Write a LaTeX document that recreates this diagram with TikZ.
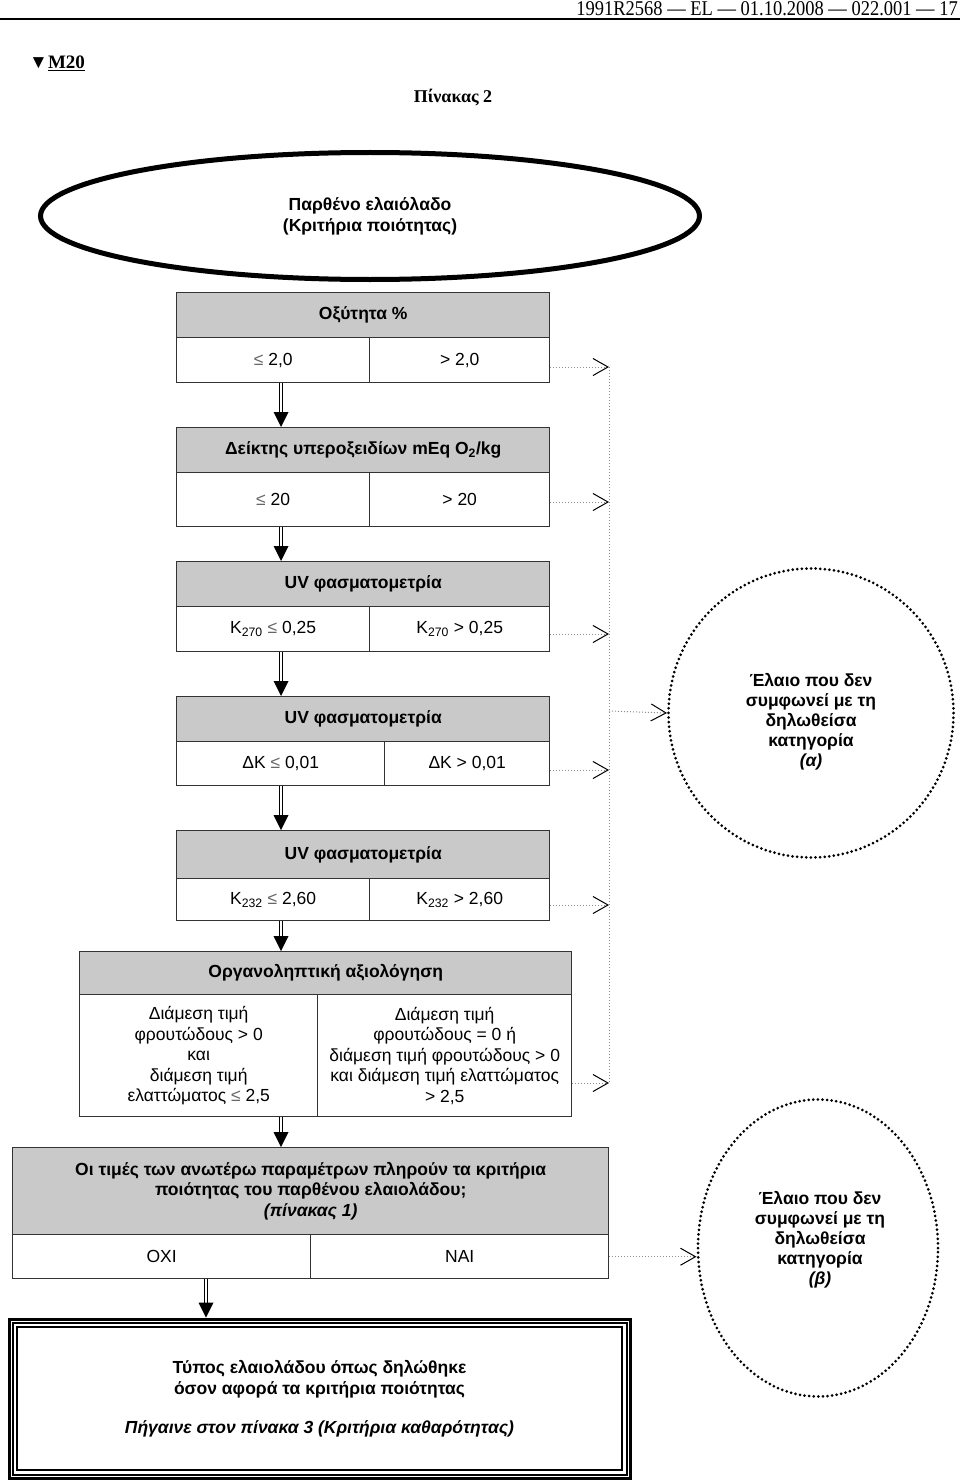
\documentclass[tikz,border=0pt]{standalone}
\usepackage{fontspec}
\setmainfont{Liberation Sans}
\newfontfamily\serifF{Liberation Serif}
\usetikzlibrary{shapes.geometric,arrows.meta}
\newcommand{\dblarr}[2]{%
  \draw[dbl] (#1) -- ([yshift=13pt]#2);
  \fill (#2) -- ++(-7.5pt,15pt) -- ++(15pt,0pt) -- cycle;}
\newcommand{\lte}{{\color{black!60}≤}}
\begin{document}
\begin{tikzpicture}[x=1pt,y=-1pt,
  cell/.style={draw=black!80, line width=1.4pt, inner sep=0pt, anchor=north west, align=center, font=\fontsize{17.5}{20.5}\selectfont},
  head/.style={cell, fill=black!21, font=\bfseries\fontsize{17.5}{20.5}\selectfont},
  dbl/.style={draw=black, double=white, double distance=1.8pt, line width=1.2pt},
  dotline/.style={draw=black!45, dotted, line width=1pt},
  dotarr/.style={dotline, -{Straight Barb[length=15pt,width=17pt,line width=1pt,color=black]}},
  circ/.style={ellipse, draw=black, line width=3pt, dash pattern=on 0pt off 4.6pt, line cap=round, inner sep=0pt},
  ctext/.style={align=center, font=\bfseries\fontsize{17.5}{20}\selectfont},
]
\useasboundingbox (0,0) rectangle (960,1482);
\fill[white] (0,0) rectangle (960,1482);

% page header
\node[anchor=north east, inner sep=0pt, font=\serifF\fontsize{21}{24}\selectfont] (hdr) at (958,1) {\scalebox{0.88}[1]{1991R2568 — EL — 01.10.2008 — 022.001 — 17}};
\draw[line width=1.2pt] (0,19) -- (960,19);
\node[anchor=west, inner sep=0pt, font=\serifF\bfseries\fontsize{19}{22}\selectfont] (m20) at (29,63) {▼\underline{M20}};
\node[inner sep=0pt, font=\serifF\bfseries\fontsize{18}{22}\selectfont] (title) at (453,98) {Πίνακας 2};

% top ellipse
\node[ellipse, draw, line width=5pt, minimum width=659pt, minimum height=127pt, inner sep=0pt, align=center, font=\bfseries\fontsize{17.5}{21}\selectfont] (top) at (370,216) {Παρθένο ελαιόλαδο\\(Κριτήρια ποιότητας)};

% box 1
\node[head, minimum width=373pt, minimum height=45pt] (h1) at (176,292) {Οξύτητα \%};
\node[cell, minimum width=193pt, minimum height=45pt] (l1) at (176,337) {\lte{} 2,0};
\node[cell, minimum width=180pt, minimum height=45pt] (r1) at (369,337) {> 2,0};
% box 2
\node[head, minimum width=373pt, minimum height=45pt] (h2) at (176,427) {Δείκτης υπεροξειδίων mEq O\textsubscript{2}/kg};
\node[cell, minimum width=193pt, minimum height=54pt] (l2) at (176,472) {\lte{} 20};
\node[cell, minimum width=180pt, minimum height=54pt] (r2) at (369,472) {> 20};
% box 3
\node[head, minimum width=373pt, minimum height=45pt] (h3) at (176,561) {UV φασματομετρία};
\node[cell, minimum width=193pt, minimum height=45pt] (l3) at (176,606) {K\textsubscript{270} \lte{} 0,25};
\node[cell, minimum width=180pt, minimum height=45pt] (r3) at (369,606) {K\textsubscript{270} > 0,25};
% box 4
\node[head, minimum width=373pt, minimum height=45pt] (h4) at (176,696) {UV φασματομετρία};
\node[cell, minimum width=208pt, minimum height=44pt] (l4) at (176,741) {ΔK \lte{} 0,01};
\node[cell, minimum width=165pt, minimum height=44pt] (r4) at (384,741) {ΔK > 0,01};
% box 5
\node[head, minimum width=373pt, minimum height=48pt] (h5) at (176,830) {UV φασματομετρία};
\node[cell, minimum width=193pt, minimum height=42pt] (l5) at (176,878) {K\textsubscript{232} \lte{} 2,60};
\node[cell, minimum width=180pt, minimum height=42pt] (r5) at (369,878) {K\textsubscript{232} > 2,60};
% box 6
\node[head, minimum width=492pt, minimum height=43pt] (h6) at (79,951) {Οργανοληπτική αξιολόγηση};
\node[cell, minimum width=238pt, minimum height=122pt] (l6) at (79,994) {Διάμεση τιμή\\φρουτώδους > 0\\και\\διάμεση τιμή\\ελαττώματος \lte{} 2,5};
\node[cell, minimum width=254pt, minimum height=122pt] (r6) at (317,994) {Διάμεση τιμή\\φρουτώδους = 0 ή\\διάμεση τιμή φρουτώδους > 0\\και διάμεση τιμή ελαττώματος\\> 2,5};
% box 7
\node[head, minimum width=596pt, minimum height=87pt] (h7) at (12,1147) {Οι τιμές των ανωτέρω παραμέτρων πληρούν τα κριτήρια\\ποιότητας του παρθένου ελαιολάδου;\\{\itshape (πίνακας 1)}};
\node[cell, minimum width=298pt, minimum height=44pt] (l7) at (12,1234) {ΟΧΙ};
\node[cell, minimum width=298pt, minimum height=44pt] (r7) at (310,1234) {ΝΑΙ};
% box 8
\node[cell, draw=black, line width=3pt, minimum width=621pt, minimum height=159pt, font=\bfseries\fontsize{17.5}{21}\selectfont] (b8) at (7.5,1317.5) {Τύπος ελαιολάδου όπως δηλώθηκε\\όσον αφορά τα κριτήρια ποιότητας\\[18pt]{\itshape Πήγαινε στον πίνακα 3 (Κριτήρια καθαρότητας)}};
\draw[line width=2pt] ([shift={(5pt,-5pt)}]b8.north west) rectangle ([shift={(-5pt,5pt)}]b8.south east);
\draw[line width=1.2pt] ([shift={(9.5pt,-9.5pt)}]b8.north west) rectangle ([shift={(-9.5pt,9.5pt)}]b8.south east);

% circles
\node[circ, minimum width=285pt, minimum height=289pt] (ca) at (811,713) {};
\node[ctext] (ta) at (811,722) {Έλαιο που δεν\\συμφωνεί με τη\\δηλωθείσα\\κατηγορία\\{\itshape (α)}};
\node[circ, minimum width=240pt, minimum height=297pt] (cb) at (818,1248) {};
\node[ctext] (tb) at (820,1240) {Έλαιο που δεν\\συμφωνεί με τη\\δηλωθείσα\\κατηγορία\\{\itshape (β)}};

% double arrows
\coordinate (ax) at (281,0);
\coordinate (bx) at (206,0);
\path (l1.south -| ax) coordinate (s1) (h2.north -| ax) coordinate (e1);
\path (l2.south -| ax) coordinate (s2) (h3.north -| ax) coordinate (e2);
\path (l3.south -| ax) coordinate (s3) (h4.north -| ax) coordinate (e3);
\path (l4.south -| ax) coordinate (s4) (h5.north -| ax) coordinate (e4);
\path (l5.south -| ax) coordinate (s5) (h6.north -| ax) coordinate (e5);
\path (l6.south -| ax) coordinate (s6) (h7.north -| ax) coordinate (e6);
\path (l7.south -| bx) coordinate (s7) (b8.north -| bx) coordinate (e7);
\dblarr{s1}{e1}
\dblarr{s2}{e2}
\dblarr{s3}{e3}
\dblarr{s4}{e4}
\dblarr{s5}{e5}
\dblarr{s6}{e6}
\dblarr{s7}{e7}

% dotted connectors
\coordinate (v1) at (609,367);
\coordinate (v2) at (609,502);
\coordinate (v3) at (609,634);
\coordinate (v4) at (609,770);
\coordinate (v5) at (609,905);
\coordinate (v6) at (609,1083);
\coordinate (vm) at (609,711);
\draw[dotline] (v1) -- (v6);
\draw[dotarr] (r1.east |- v1) -- (v1);
\draw[dotarr] (r2.east |- v2) -- (v2);
\draw[dotarr] (r3.east |- v3) -- (v3);
\draw[dotarr] (r4.east |- v4) -- (v4);
\draw[dotarr] (r5.east |- v5) -- (v5);
\draw[dotarr] (r6.east |- v6) -- (v6);
\draw[dotarr] (vm) -- (ca.west);
\draw[dotarr] (r7.east) -- (r7.east -| cb.west);
\end{tikzpicture}
\end{document}
